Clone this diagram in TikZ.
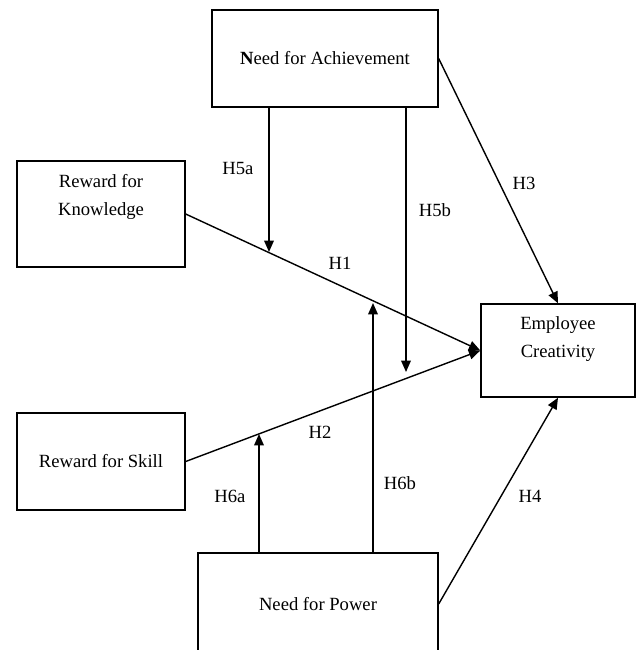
\documentclass[tikz,border=0pt]{standalone}
\usepackage{fontspec}
\setmainfont{Liberation Serif}
\usetikzlibrary{arrows.meta}

\begin{document}
\begin{tikzpicture}[x=0.02cm, y=-0.02cm,
        box/.style={draw, line width=0.8pt, inner sep=0pt},
        txt/.style={align=center, font=\fontsize{10.6}{15.9}\selectfont},
        arr/.style={line width=0.8pt, -{Triangle[length=6.5pt, width=5.5pt]}},
        hyp/.style={font=\fontsize{10.6}{13}\selectfont}]
        \useasboundingbox (0,0) rectangle (638,650);

        % constructs
        \node[box, txt, minimum width=4.52cm, minimum height=1.94cm] (ach) at (325,58.5) {\textbf{N}eed for Achievement};
        \node[box, minimum width=3.36cm, minimum height=2.12cm] (know) at (101,214) {};
        \node[txt] (knowtext) at (101,197) {Reward for\\Knowledge};
        \node[box, txt, minimum width=3.36cm, minimum height=1.94cm] (skill) at (101,461.5) {Reward for Skill};
        \node[box, minimum width=3.08cm, minimum height=1.86cm] (emp) at (558,350.5) {};
        \node[txt] (emptext) at (558,339) {Employee\\Creativity};
        \node[box, txt, minimum width=4.8cm, minimum height=2.04cm] (pow) at (318,604) {Need for Power};

        % direct effects
        \draw[arr] (know.east) -- (emp.west);
        \draw[arr] (skill.east) -- (emp.west);
        \draw[arr] (ach.east) -- (emp.north);
        \draw[arr] (pow.east) -- (emp.south);

        % moderators
        \coordinate (m5a) at (269,252);
        \coordinate (m5b) at (406,372);
        \coordinate (m6a) at (259,434);
        \coordinate (m6b) at (373,303);
        \draw[arr] (ach.south -| m5a) -- (m5a);
        \draw[arr] (ach.south -| m5b) -- (m5b);
        \draw[arr] (pow.north -| m6a) -- (m6a);
        \draw[arr] (pow.north -| m6b) -- (m6b);

        % labels
        \node[hyp] (h1) at (340,263) {H1};
        \node[hyp] (h2) at (320,432) {H2};
        \node[hyp] (h3) at (524,183) {H3};
        \node[hyp] (h4) at (530,496) {H4};
        \node[hyp] (h5a) at (238,168) {H5a};
        \node[hyp] (h5b) at (435,210) {H5b};
        \node[hyp] (h6a) at (230,496) {H6a};
        \node[hyp] (h6b) at (400,483) {H6b};
\end{tikzpicture}
\end{document}
